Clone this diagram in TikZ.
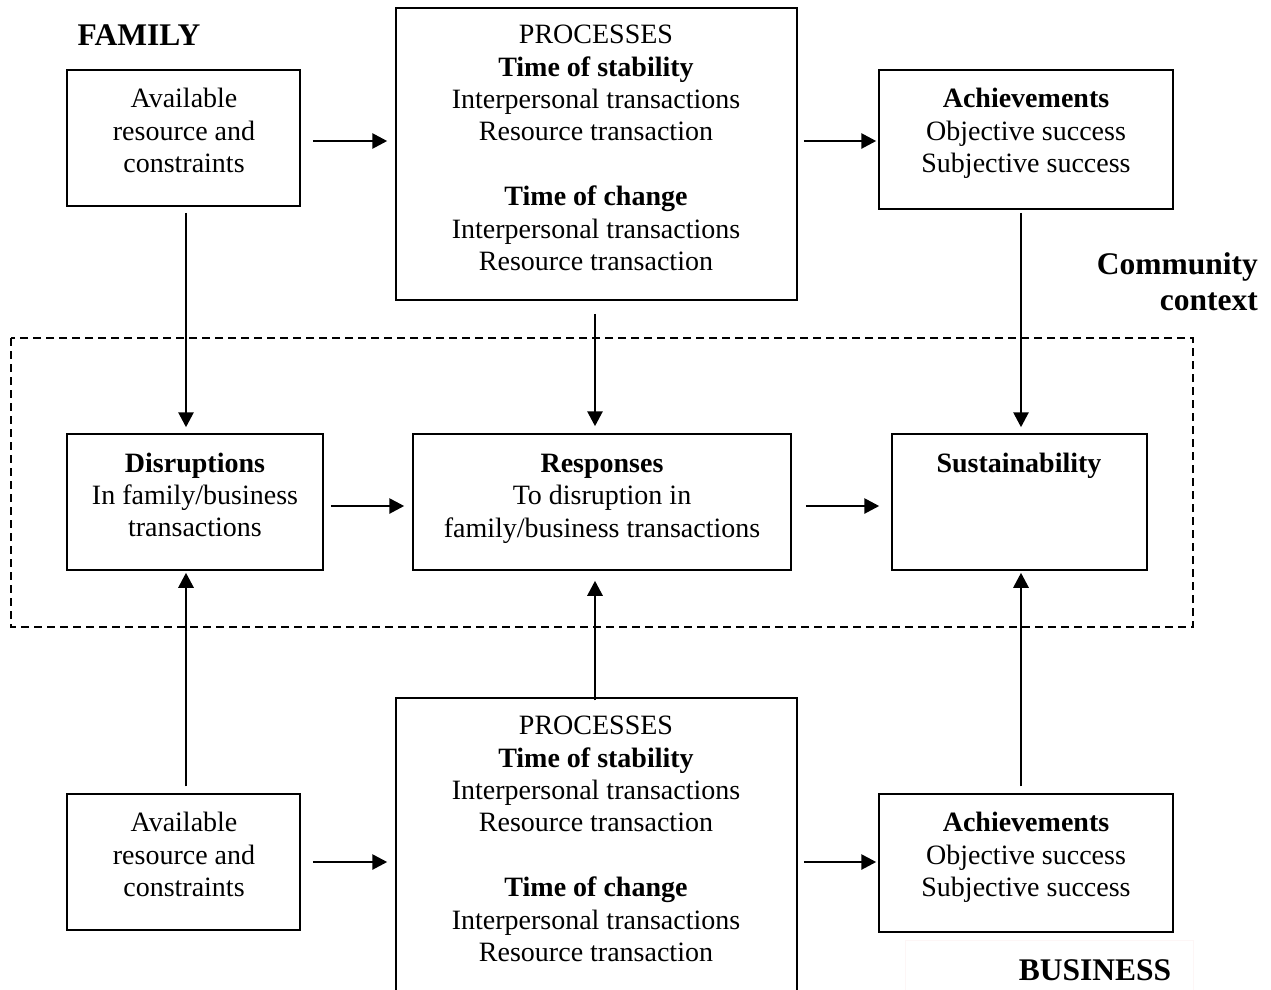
\documentclass[tikz,border=0pt]{standalone}
\usepackage{fontspec}
\setmainfont{Liberation Serif}
\usetikzlibrary{arrows.meta}
\begin{document}
\begin{tikzpicture}[x=1pt,y=-1pt,
  box/.style={draw, line width=1.5pt, inner sep=0pt},
  txt/.style={align=center, inner sep=0pt, font=\fontsize{28}{32.4}\selectfont},
  head/.style={inner sep=0pt, font=\fontsize{31.5}{36}\selectfont\bfseries},
  arr/.style={line width=2.8pt, -{Triangle[length=15pt,width=15pt]}},
  zone/.style={draw, line width=1.3pt, dash pattern=on 8pt off 5pt}]
\clip (0,0) rectangle (1271,989);
\fill[white] (0,0) rectangle (1271,989);

% community context zone
\draw[zone] (11,338) rectangle (1193,627);

% faint frame behind the business label
\draw[line width=1pt, draw={rgb,255:red,253;green,246;blue,246}] (905,1000) -- (905,940) -- (1193,940) -- (1193,1000);

% family row
\node[box, minimum width=233pt, minimum height=136pt] (TL) at (183.5,138) {};
\node[txt] (TLt) at (184,130.5) {Available\\resource and\\constraints};
\node[box, minimum width=401pt, minimum height=292pt] (TP) at (596.5,154) {};
\node[txt] (TPt) at (596,148) {PROCESSES\\\textbf{Time of stability}\\Interpersonal transactions\\Resource transaction\\[32.4pt]\textbf{Time of change}\\Interpersonal transactions\\Resource transaction};
\node[box, minimum width=294pt, minimum height=139pt] (TA) at (1026,139.5) {};
\node[txt] (TAt) at (1026,133.5) {\textbf{Achievements}\\Objective success\\Subjective success};

% middle row
\node[box, minimum width=256pt, minimum height=136pt] (D) at (195,502) {};
\node[txt] (Dt) at (195,495) {\textbf{Disruptions}\\In family/business\\transactions};
\node[box, minimum width=378pt, minimum height=136pt] (R) at (602,502) {};
\node[txt] (Rt) at (602,498.5) {\textbf{Responses}\\To disruption in\\family/business transactions};
\node[box, minimum width=255pt, minimum height=136pt] (S) at (1019.5,502) {};
\node[txt] (St) at (1019,466) {\textbf{Sustainability}};

% business row
\node[box, minimum width=233pt, minimum height=136pt] (BL) at (183.5,862) {};
\node[txt] (BLt) at (184,854.5) {Available\\resource and\\constraints};
\node[box, minimum width=401pt, minimum height=320pt] (BP) at (596.5,858) {};
\node[txt] (BPt) at (596,839) {PROCESSES\\\textbf{Time of stability}\\Interpersonal transactions\\Resource transaction\\[32.4pt]\textbf{Time of change}\\Interpersonal transactions\\Resource transaction};
\node[box, minimum width=294pt, minimum height=138pt] (BA) at (1026,863) {};
\node[txt] (BAt) at (1026,857.5) {\textbf{Achievements}\\Objective success\\Subjective success};

% headings
\node[head] (fam) at (139,35) {FAMILY};
\node[head] (bus) at (1095,970) {BUSINESS};
\node[head, align=right, anchor=east] (com) at (1258,282) {Community\\context};

% horizontal connectors
\draw[arr, shorten <=12pt, shorten >=8pt] (TL.east |- 0,141) -- (TP.west |- 0,141);
\draw[arr, shorten <=6pt, shorten >=2pt] (TP.east |- 0,141) -- (TA.west |- 0,141);
\draw[arr, shorten <=7pt, shorten >=8pt] (D.east |- 0,506) -- (R.west |- 0,506);
\draw[arr, shorten <=14pt, shorten >=12pt] (R.east |- 0,506) -- (S.west |- 0,506);
\draw[arr, shorten <=12pt, shorten >=8pt] (BL.east |- 0,862) -- (BP.west |- 0,862);
\draw[arr, shorten <=6pt, shorten >=2pt] (BP.east |- 0,862) -- (BA.west |- 0,862);

% vertical connectors
\draw[arr, shorten <=6pt, shorten >=6pt] (186,0 |- TL.south) -- (186,0 |- D.north);
\draw[arr, shorten <=13pt, shorten >=7pt] (595,0 |- TP.south) -- (595,0 |- R.north);
\draw[arr, shorten <=3pt, shorten >=6pt] (1021,0 |- TA.south) -- (1021,0 |- S.north);
\draw[arr, shorten <=7pt, shorten >=2pt] (186,0 |- BL.north) -- (186,0 |- D.south);
\draw[arr, shorten <=-3pt, shorten >=10pt] (595,0 |- BP.north) -- (595,0 |- R.south);
\draw[arr, shorten <=7pt, shorten >=2pt] (1021,0 |- BA.north) -- (1021,0 |- S.south);
\end{tikzpicture}
\end{document}
